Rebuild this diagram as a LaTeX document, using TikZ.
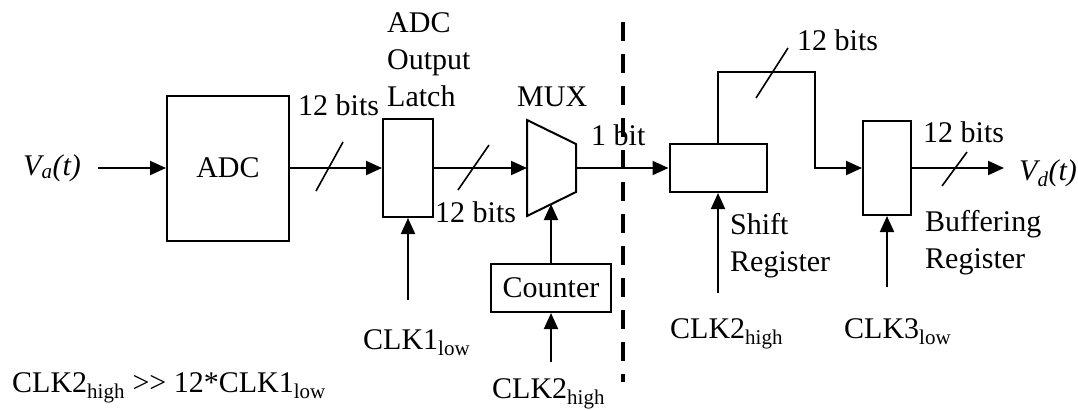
\documentclass[tikz,border=0pt]{standalone}
\usepackage{fontspec}
\setmainfont{Liberation Serif}
\usetikzlibrary{positioning, arrows.meta, calc}

\begin{document}
\begin{tikzpicture}[
  x=1pt, y=-1pt,
  font=\fontsize{30pt}{37pt}\selectfont,
  blk/.style={rectangle, draw, line width=2pt, inner sep=0pt},
  sig/.style={line width=2pt, -{Triangle[length=16pt,width=14pt]}},
  wire/.style={line width=2pt},
  slash/.style={line width=1.6pt},
  lbl/.style={inner sep=0pt, anchor=base west},
  divider/.style={line width=4pt, dash pattern=on 19pt off 13pt},
]
\useasboundingbox (0,0) rectangle (1078,410);

% analog input and ADC
\node[lbl] (va) at (23,175) {\textit{V\textsubscript{a}(t)}};
\node[blk, minimum width=122pt, minimum height=145pt] (adc) at (228,168) {ADC};
\draw[sig] ([xshift=17pt]va.east |- adc.west) -- (adc.west);

% ADC output latch
\node[blk, minimum width=50pt, minimum height=98pt] (latch) at (408,168) {};
\draw[sig] (adc) -- (latch);
\draw[slash] (316,191) -- (343,142);
\node[lbl] (bits1) at (298,115) {12 bits};
\node[lbl, align=left] (latchlbl) at (387,106) {ADC\\Output\\Latch};
\coordinate (l1clk) at (408,300);
\draw[sig] (l1clk) -- (latch);
\node[lbl] (l1clklbl) at (363,349) {CLK1\textsubscript{low}};

% MUX
\coordinate (mux) at (551,168);
\draw[wire] (mux) ++(-24,-48) -- ++(49,24) -- ++(0,48) -- ++(-49,24) -- cycle;
\coordinate (muxin) at ($(mux)+(-24,0)$);
\coordinate (muxout) at ($(mux)+(25,0)$);
\coordinate (muxsel) at ($(mux)+(0,36)$);
\node[lbl] (muxlbl) at (517,106) {MUX};
\draw[sig] (latch) -- (muxin);
\draw[slash] (458,190) -- (489,145);
\node[lbl] (bits2) at (435,222) {12 bits};

% counter
\node[blk, minimum width=120pt, minimum height=48pt, below=95pt of mux] (counter) {Counter};
\draw[sig] (counter) -- (muxsel);
\coordinate (cntclk) at (551,362);
\draw[sig] (cntclk) -- (counter);
\node[lbl] (cntclklbl) at (492,398) {CLK2\textsubscript{high}};

% shift register
\node[blk, minimum width=97pt, minimum height=48pt] (shift) at (718,168) {};
\node[lbl] (bitlbl) at (591,145) {1 bit};
\draw[sig] (muxout) -- (shift);
\node[lbl, align=left] (shlbl) at (730,271) {Shift\\Register};
\coordinate (shclk) at (718,293);
\draw[sig] (shclk) -- (shift);
\node[lbl] (shclklbl) at (670,338) {CLK2\textsubscript{high}};

% analog / digital boundary
\draw[divider] (623,22) -- (623,382);

% buffering register
\coordinate (fb) at (815,72);
\node[blk, minimum width=48pt, minimum height=94pt] (buf) at (887,168) {};
\draw[sig] (shift.north) |- (fb) |- (buf);
\draw[slash] (756,98) -- (788,48);
\node[lbl] (bits3) at (797,50) {12 bits};
\node[lbl, align=left] (buflbl) at (925,268) {Buffering\\Register};
\coordinate (bfclk) at (887,287);
\draw[sig] (bfclk) -- (buf);
\node[lbl] (bfclklbl) at (844,338) {CLK3\textsubscript{low}};

% digital output
\node[lbl] (vd) at (1019,180) {\textit{V\textsubscript{d}(t)}};
\draw[sig] (buf) -- ([xshift=-15pt]vd.west |- buf.east);
\draw[slash] (942,186) -- (967,152);
\node[lbl] (bits4) at (923,142) {12 bits};

% clock relation
\node[lbl] (note) at (12,392) {CLK2\textsubscript{high} >{}> 12*CLK1\textsubscript{low}};

\end{tikzpicture}
\end{document}
